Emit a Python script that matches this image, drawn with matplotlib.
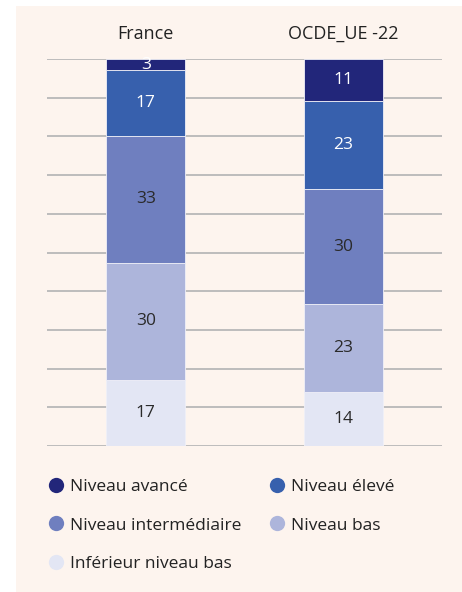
import matplotlib.pyplot as plt
from matplotlib.lines import Line2D

groups = ['France', 'OCDE_UE -22']
levels = ['Inférieur niveau bas', 'Niveau bas', 'Niveau intermédiaire', 'Niveau élevé', 'Niveau avancé']
france = [17.0, 30.4, 32.7, 17.0, 2.9]
ocde = [13.9, 22.7, 29.7, 22.8, 10.9]
colors = ['#e3e6f4', '#adb5db', '#6f7fbf', '#3760ad', '#22267a']
text_colors = ['#2a2a2a', '#2a2a2a', '#2a2a2a', 'white', 'white']

plt.rcParams['font.family'] = ['Open Sans', 'DejaVu Sans']
bg = '#fdf4ee'

fig = plt.figure(figsize=(4.62, 5.92), dpi=100)
fig.patch.set_facecolor('white')
fig.patches.append(plt.Rectangle((16 / 462, 0), 1, 1 - 6 / 592, transform=fig.transFigure,
                                 facecolor=bg, edgecolor='none', zorder=-10))

ax = fig.add_axes([47 / 462, 146 / 592, 395 / 462, 387 / 592])
ax.set_facecolor(bg)
ax.patch.set_alpha(0)

x = [0, 1]
bottoms = [0, 0]
for i, lvl in enumerate(levels):
    vals = [france[i], ocde[i]]
    ax.bar(x, vals, width=0.4, bottom=bottoms, color=colors[i],
           edgecolor='#f0f0f8', linewidth=0.6, zorder=3)
    for j in range(2):
        ax.text(x[j], bottoms[j] + vals[j] / 2, f'{vals[j]:.0f}', ha='center', va='center',
                fontsize=12.5, color=text_colors[i], zorder=4)
    bottoms = [bottoms[0] + vals[0], bottoms[1] + vals[1]]

ax.set_xlim(-0.5, 1.5)
ax.set_ylim(0, 100)
ax.set_yticks(range(0, 101, 10))
ax.yaxis.grid(True, color='#b8b8b8', linewidth=1.3, zorder=0)
ax.tick_params(axis='y', left=False, labelleft=False)
ax.xaxis.tick_top()
ax.set_xticks(x)
ax.set_xticklabels(groups, fontsize=13, color='#222222')
ax.tick_params(axis='x', top=False, pad=8)
for s in ax.spines.values():
    s.set_visible(False)

order = [4, 2, 0, 3, 1]
handles = [Line2D([], [], marker='o', linestyle='none', markersize=11,
                  markerfacecolor=colors[k], markeredgecolor='none') for k in order]
fig.legend(handles, [levels[k] for k in order], ncol=2, loc='upper left',
           bbox_to_anchor=(30 / 462, 1 - 463 / 592), frameon=False, fontsize=12.5,
           handletextpad=0.2, handlelength=1.2, columnspacing=1.45, labelspacing=1.3,
           labelcolor='#222222')

plt.savefig('out.png', dpi=100, facecolor='white')
